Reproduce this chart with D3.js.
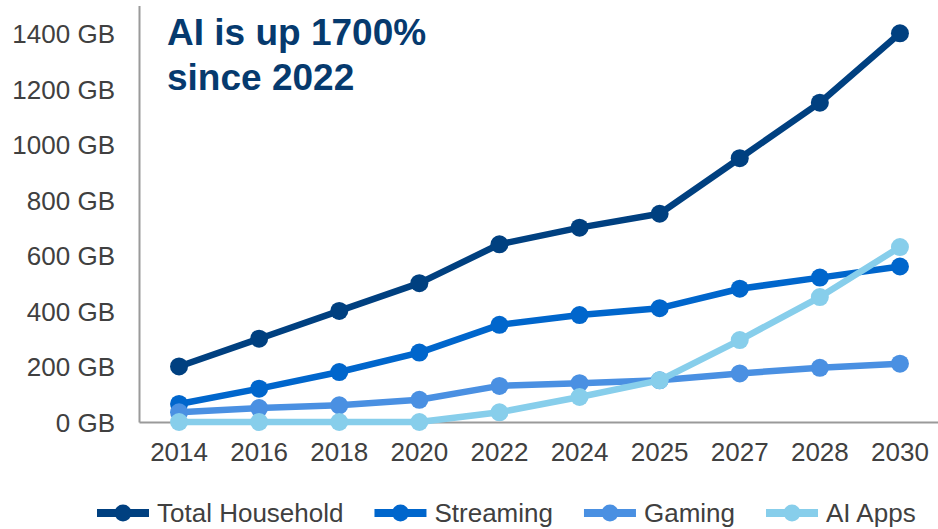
<!DOCTYPE html>
<html>
<head>
<meta charset="utf-8">
<script src="https://cdn.jsdelivr.net/npm/d3@7/dist/d3.min.js"></script>
<style>
  html, body { margin: 0; padding: 0; background: #fff; }
  svg { display: block; font-family: "Liberation Sans", Arial, sans-serif; }
</style>
</head>
<body>
<svg id="chart" width="938" height="529"></svg>
<script>
// Household data usage per month, by category
const years = ["2014", "2016", "2018", "2020", "2022", "2024", "2025", "2027", "2028", "2030"];
const totalHousehold = [200, 300, 400, 500, 640, 700, 750, 950, 1150, 1400];
const streaming      = [65, 120, 180, 250, 350, 385, 410, 480, 520, 560];
const gaming         = [35, 50, 60, 80, 130, 140, 150, 175, 195, 210];
const aiApps         = [0, 0, 0, 0, 35, 90, 150, 295, 450, 630];
const seriesNames    = ["Total Household", "Streaming", "Gaming", "AI Apps"];
const yTicks         = [0, 200, 400, 600, 800, 1000, 1200, 1400];
const titleLines     = ["AI is up 1700%", "since 2022"];

const seriesValues = [totalHousehold, streaming, gaming, aiApps];
const colors = ["#004080", "#0066CC", "#4A90E2", "#87CEEB"];

const svg = d3.select("#chart");
const plotLeft = 139, plotRight = 940, plotTop = 5.5, plotBottom = 422;

const x = d3.scaleBand().domain(years).range([plotLeft, plotRight]);
const y = d3.scaleLinear().domain([0, 1500]).range([plotBottom, plotTop]);
const cx = d => x(d) + x.bandwidth() / 2;

const axisColor = "#9a9a9a";
const labelColor = "#404040";

// Axes
const yAxis = svg.append("g")
  .attr("transform", `translate(${plotLeft},0)`)
  .call(d3.axisLeft(y).tickValues(yTicks).tickSize(0).tickPadding(24).tickFormat(d => d + " GB"));
yAxis.select(".domain").attr("stroke", axisColor).attr("stroke-width", 2);
yAxis.selectAll("text")
  .attr("fill", labelColor)
  .style("font-size", "26px")
  .attr("dy", "0.36em");

const xAxis = svg.append("g")
  .attr("transform", `translate(0,${plotBottom})`)
  .call(d3.axisBottom(x).tickSize(0).tickPadding(21));
xAxis.select(".domain").attr("stroke", axisColor).attr("stroke-width", 2);
xAxis.selectAll("text")
  .attr("fill", labelColor)
  .style("font-size", "26px")
  .attr("dy", "0.71em");

// Series lines and markers
const line = d3.line().x((d, i) => cx(years[i])).y(d => y(d));
seriesValues.forEach((vals, s) => {
  const g = svg.append("g");
  g.append("path")
    .datum(vals)
    .attr("d", line)
    .attr("fill", "none")
    .attr("stroke", colors[s])
    .attr("stroke-width", 6.5)
    .attr("stroke-linejoin", "round");
  g.selectAll("circle")
    .data(vals)
    .join("circle")
    .attr("cx", (d, i) => cx(years[i]))
    .attr("cy", d => y(d))
    .attr("r", 9)
    .attr("fill", colors[s]);
});

// Headline
const title = svg.append("text")
  .attr("x", 167)
  .attr("fill", "#063a6e")
  .style("font-size", "37px")
  .style("font-weight", "bold");
titleLines.forEach((t, i) => {
  title.append("tspan").attr("x", 167).attr("y", 44.5 + i * 45).text(t);
});

// Legend
const legend = svg.append("g");
let lx = 97;
const ly = 513;
seriesNames.forEach((name, s) => {
  const item = legend.append("g");
  item.append("line")
    .attr("x1", lx).attr("x2", lx + 52)
    .attr("y1", ly).attr("y2", ly)
    .attr("stroke", colors[s]).attr("stroke-width", 8);
  item.append("circle")
    .attr("cx", lx + 26).attr("cy", ly).attr("r", 8.5)
    .attr("fill", colors[s]);
  const txt = item.append("text")
    .attr("x", lx + 60).attr("y", ly + 9)
    .attr("fill", labelColor)
    .style("font-size", "26px")
    .text(name);
  lx += 60 + txt.node().getComputedTextLength() + 31;
});
</script>
</body>
</html>
